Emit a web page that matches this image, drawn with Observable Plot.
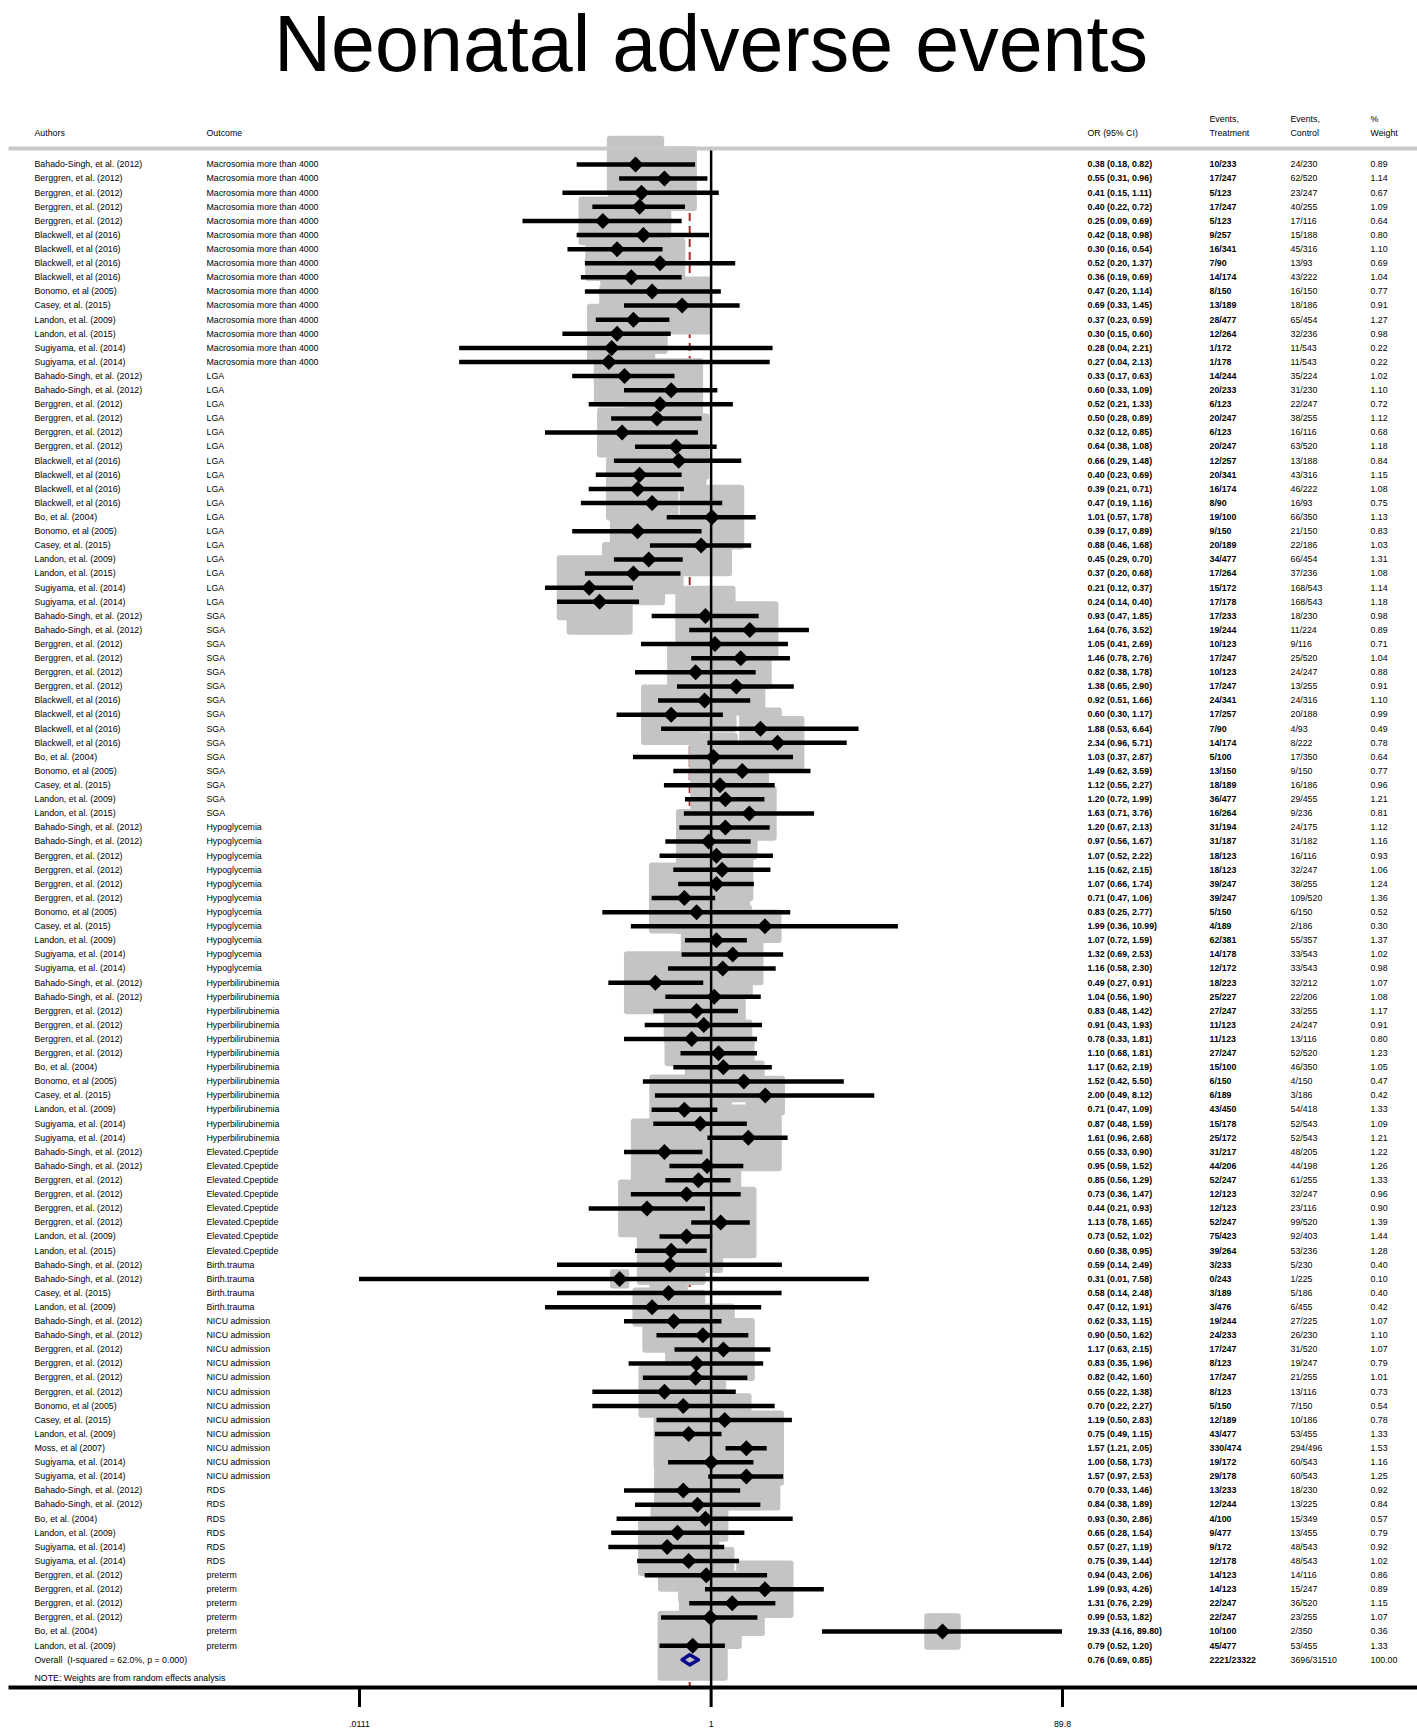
<!DOCTYPE html>
<html>
<head>
<meta charset="utf-8">
<script src="https://cdn.jsdelivr.net/npm/d3@7"></script>
<script src="https://cdn.jsdelivr.net/npm/@observablehq/plot@0.6"></script>
<style>
  html, body { margin: 0; padding: 0; background: #fff; }
  #title { height: 100px; position: relative; font-family: "Liberation Sans", Arial, sans-serif; }
  #title span { position: absolute; left: 0; width: 1422px; text-align: center; top: 4px; font-size: 79px; line-height: 79px; color: #000; }
  #chart svg { display: block; }
</style>
</head>
<body>
<div id="title"><span>Neonatal adverse events</span></div>
<div id="chart"></div>
<script>
const BS = "Bahado-Singh, et al. (2012)", BG = "Berggren, et al. (2012)", BW = "Blackwell, et al (2016)",
      BN = "Bonomo, et al (2005)", CA = "Casey, et al. (2015)", L9 = "Landon, et al. (2009)",
      L15 = "Landon, et al. (2015)", SU = "Sugiyama, et al. (2014)", BO = "Bo, et al. (2004)", MO = "Moss, et al (2007)";

const authors = [
  BS, BG, BG, BG, BG, BW, BW, BW, BW, BN, CA, L9, L15, SU, SU,
  BS, BS, BG, BG, BG, BG, BW, BW, BW, BW, BO, BN, CA, L9, L15, SU, SU,
  BS, BS, BG, BG, BG, BG, BW, BW, BW, BW, BO, BN, CA, L9, L15,
  BS, BS, BG, BG, BG, BG, BN, CA, L9, SU, SU,
  BS, BS, BG, BG, BG, BG, BO, BN, CA, L9, SU, SU,
  BS, BS, BG, BG, BG, BG, L9, L15,
  BS, BS, CA, L9,
  BS, BS, BG, BG, BG, BG, BN, CA, L9, MO, SU, SU,
  BS, BS, BO, L9, SU, SU,
  BG, BG, BG, BG, BO, L9
];

const outcomeNames = ["Macrosomia more than 4000", "LGA", "SGA", "Hypoglycemia", "Hyperbilirubinemia",
  "Elevated.Cpeptide", "Birth.trauma", "NICU admission", "RDS", "preterm"];
const outcomeCounts = [15, 17, 15, 11, 12, 8, 4, 12, 6, 6];

const orVals = [
  0.38, 0.55, 0.41, 0.40, 0.25, 0.42, 0.30, 0.52, 0.36, 0.47, 0.69, 0.37, 0.30, 0.28, 0.27,
  0.33, 0.60, 0.52, 0.50, 0.32, 0.64, 0.66, 0.40, 0.39, 0.47, 1.01, 0.39, 0.88, 0.45, 0.37, 0.21, 0.24,
  0.93, 1.64, 1.05, 1.46, 0.82, 1.38, 0.92, 0.60, 1.88, 2.34, 1.03, 1.49, 1.12, 1.20, 1.63,
  1.20, 0.97, 1.07, 1.15, 1.07, 0.71, 0.83, 1.99, 1.07, 1.32, 1.16,
  0.49, 1.04, 0.83, 0.91, 0.78, 1.10, 1.17, 1.52, 2.00, 0.71, 0.87, 1.61,
  0.55, 0.95, 0.85, 0.73, 0.44, 1.13, 0.73, 0.60,
  0.59, 0.31, 0.58, 0.47,
  0.62, 0.90, 1.17, 0.83, 0.82, 0.55, 0.70, 1.19, 0.75, 1.57, 1.00, 1.57,
  0.70, 0.84, 0.93, 0.65, 0.57, 0.75,
  0.94, 1.99, 1.31, 0.99, 19.33, 0.79
];
const loVals = [
  0.18, 0.31, 0.15, 0.22, 0.09, 0.18, 0.16, 0.20, 0.19, 0.20, 0.33, 0.23, 0.15, 0.04, 0.04,
  0.17, 0.33, 0.21, 0.28, 0.12, 0.38, 0.29, 0.23, 0.21, 0.19, 0.57, 0.17, 0.46, 0.29, 0.20, 0.12, 0.14,
  0.47, 0.76, 0.41, 0.78, 0.38, 0.65, 0.51, 0.30, 0.53, 0.96, 0.37, 0.62, 0.55, 0.72, 0.71,
  0.67, 0.56, 0.52, 0.62, 0.66, 0.47, 0.25, 0.36, 0.72, 0.69, 0.58,
  0.27, 0.56, 0.48, 0.43, 0.33, 0.68, 0.62, 0.42, 0.49, 0.47, 0.48, 0.96,
  0.33, 0.59, 0.56, 0.36, 0.21, 0.78, 0.52, 0.38,
  0.14, 0.01, 0.14, 0.12,
  0.33, 0.50, 0.63, 0.35, 0.42, 0.22, 0.22, 0.50, 0.49, 1.21, 0.58, 0.97,
  0.33, 0.38, 0.30, 0.28, 0.27, 0.39,
  0.43, 0.93, 0.76, 0.53, 4.16, 0.52
];
const hiVals = [
  0.82, 0.96, 1.11, 0.72, 0.69, 0.98, 0.54, 1.37, 0.69, 1.14, 1.45, 0.59, 0.60, 2.21, 2.13,
  0.63, 1.09, 1.33, 0.89, 0.85, 1.08, 1.48, 0.69, 0.71, 1.16, 1.78, 0.89, 1.68, 0.70, 0.68, 0.37, 0.40,
  1.85, 3.52, 2.69, 2.76, 1.78, 2.90, 1.66, 1.17, 6.64, 5.71, 2.87, 3.59, 2.27, 1.99, 3.76,
  2.13, 1.67, 2.22, 2.15, 1.74, 1.06, 2.77, 10.99, 1.59, 2.53, 2.30,
  0.91, 1.90, 1.42, 1.93, 1.81, 1.81, 2.19, 5.50, 8.12, 1.09, 1.59, 2.68,
  0.90, 1.52, 1.29, 1.47, 0.93, 1.65, 1.02, 0.95,
  2.49, 7.58, 2.48, 1.91,
  1.15, 1.62, 2.15, 1.96, 1.60, 1.38, 2.27, 2.83, 1.15, 2.05, 1.73, 2.53,
  1.46, 1.89, 2.86, 1.54, 1.19, 1.44,
  2.06, 4.26, 2.29, 1.82, 89.80, 1.20
];
const evTreat = [
  "10/233", "17/247", "5/123", "17/247", "5/123", "9/257", "16/341", "7/90", "14/174", "8/150", "13/189", "28/477", "12/264", "1/172", "1/178",
  "14/244", "20/233", "6/123", "20/247", "6/123", "20/247", "12/257", "20/341", "16/174", "8/90", "19/100", "9/150", "20/189", "34/477", "17/264", "15/172", "17/178",
  "17/233", "19/244", "10/123", "17/247", "10/123", "17/247", "24/341", "17/257", "7/90", "14/174", "5/100", "13/150", "18/189", "36/477", "16/264",
  "31/194", "31/187", "18/123", "18/123", "39/247", "39/247", "5/150", "4/189", "62/381", "14/178", "12/172",
  "18/223", "25/227", "27/247", "11/123", "11/123", "27/247", "15/100", "6/150", "6/189", "43/450", "15/178", "25/172",
  "31/217", "44/206", "52/247", "12/123", "12/123", "52/247", "75/423", "39/264",
  "3/233", "0/243", "3/189", "3/476",
  "19/244", "24/233", "17/247", "8/123", "17/247", "8/123", "5/150", "12/189", "43/477", "330/474", "19/172", "29/178",
  "13/233", "12/244", "4/100", "9/477", "9/172", "12/178",
  "14/123", "14/123", "22/247", "22/247", "10/100", "45/477"
];
const evCtrl = [
  "24/230", "62/520", "23/247", "40/255", "17/116", "15/188", "45/316", "13/93", "43/222", "16/150", "18/186", "65/454", "32/236", "11/543", "11/543",
  "35/224", "31/230", "22/247", "38/255", "16/116", "63/520", "13/188", "43/316", "46/222", "16/93", "66/350", "21/150", "22/186", "66/454", "37/236", "168/543", "168/543",
  "18/230", "11/224", "9/116", "25/520", "24/247", "13/255", "24/316", "20/188", "4/93", "8/222", "17/350", "9/150", "16/186", "29/455", "9/236",
  "24/175", "31/182", "16/116", "32/247", "38/255", "109/520", "6/150", "2/186", "55/357", "33/543", "33/543",
  "32/212", "22/206", "33/255", "24/247", "13/116", "52/520", "46/350", "4/150", "3/186", "54/418", "52/543", "52/543",
  "48/205", "44/198", "61/255", "32/247", "23/116", "99/520", "92/403", "53/236",
  "5/230", "1/225", "5/186", "6/455",
  "27/225", "26/230", "31/520", "19/247", "21/255", "13/116", "7/150", "10/186", "53/455", "294/496", "60/543", "60/543",
  "18/230", "13/225", "15/349", "13/455", "48/543", "48/543",
  "14/116", "15/247", "36/520", "23/255", "2/350", "53/455"
];
const weights = [
  0.89, 1.14, 0.67, 1.09, 0.64, 0.80, 1.10, 0.69, 1.04, 0.77, 0.91, 1.27, 0.98, 0.22, 0.22,
  1.02, 1.10, 0.72, 1.12, 0.68, 1.18, 0.84, 1.15, 1.08, 0.75, 1.13, 0.83, 1.03, 1.31, 1.08, 1.14, 1.18,
  0.98, 0.89, 0.71, 1.04, 0.88, 0.91, 1.10, 0.99, 0.49, 0.78, 0.64, 0.77, 0.96, 1.21, 0.81,
  1.12, 1.16, 0.93, 1.06, 1.24, 1.36, 0.52, 0.30, 1.37, 1.02, 0.98,
  1.07, 1.08, 1.17, 0.91, 0.80, 1.23, 1.05, 0.47, 0.42, 1.33, 1.09, 1.21,
  1.22, 1.26, 1.33, 0.96, 0.90, 1.39, 1.44, 1.28,
  0.40, 0.10, 0.40, 0.42,
  1.07, 1.10, 1.07, 0.79, 1.01, 0.73, 0.54, 0.78, 1.33, 1.53, 1.16, 1.25,
  0.92, 0.84, 0.57, 0.79, 0.92, 1.02,
  0.86, 0.89, 1.15, 1.07, 0.36, 1.33
];

const overallLabel = "Overall  (I-squared = 62.0%, p = 0.000)";
const overallOR = 0.76, overallLo = 0.69, overallHi = 0.85;
const overallTreat = "2221/23322", overallCtrl = "3696/31510", overallWeight = "100.00";
const noteText = "NOTE: Weights are from random effects analysis";

const tickVals = [0.0111, 1, 89.8];
const tickLabels = [".0111", "1", "89.8"];

const headerLine1 = ["", "", "", "Events,", "Events,", "%"];
const headerLine2 = ["Authors", "Outcome", "OR (95% CI)", "Treatment", "Control", "Weight"];

// build rows
const outcomes = outcomeNames.flatMap((n, i) => Array(outcomeCounts[i]).fill(n));
const rows = authors.map((a, i) => ({
  row: i + 1, author: a, outcome: outcomes[i], or: orVals[i], lo: loVals[i], hi: hiVals[i],
  ciText: `${orVals[i].toFixed(2)} (${loVals[i].toFixed(2)}, ${hiVals[i].toFixed(2)})`,
  treat: evTreat[i], ctrl: evCtrl[i], w: weights[i], wText: weights[i].toFixed(2)
}));
const overallRow = rows.length + 1;
const textRows = [...rows, {row: overallRow, author: overallLabel, outcome: "",
  ciText: `${overallOR.toFixed(2)} (${overallLo.toFixed(2)}, ${overallHi.toFixed(2)})`,
  treat: overallTreat, ctrl: overallCtrl, wText: overallWeight}];
const diamondPts = [
  {x: overallLo, y: overallRow}, {x: overallOR, y: overallRow - 0.36},
  {x: overallHi, y: overallRow}, {x: overallOR, y: overallRow + 0.36},
  {x: overallLo, y: overallRow}
];
const ticks = tickVals.map((v, i) => ({v, label: tickLabels[i]}));

const xMin = tickVals[0], xMax = tickVals[tickVals.length - 1];

const roundSquare = {
  draw(ctx, size) {
    const r = Math.sqrt(size / Math.PI), c = Math.min(3, r * 0.25);
    ctx.moveTo(-r + c, -r);
    ctx.lineTo(r - c, -r); ctx.arcTo(r, -r, r, -r + c, c);
    ctx.lineTo(r, r - c); ctx.arcTo(r, r, r - c, r, c);
    ctx.lineTo(-r + c, r); ctx.arcTo(-r, r, -r, r - c, c);
    ctx.lineTo(-r, -r + c); ctx.arcTo(-r, -r, -r + c, -r, c);
    ctx.closePath();
  }
};
const diamondSym = {
  draw(ctx, size) {
    const r = Math.sqrt(size / Math.PI);
    ctx.moveTo(0, -r); ctx.lineTo(r, 0); ctx.lineTo(0, r); ctx.lineTo(-r, 0); ctx.closePath();
  }
};

// column offsets from the frame's left edge (style)
const colDx = [24, 196, 1077, 1199, 1280, 1360];
const fs = 8.8;
const W = 1417, H = 1629;

const colField = ["author", "outcome", "ciText", "treat", "ctrl", "wText"];
const colBold = [false, false, true, true, false, false];

const columnMarks = colField.map((f, i) =>
  Plot.text(textRows, {y: "row", text: f, frameAnchor: "left", dx: colDx[i], textAnchor: "start",
    fontSize: fs, fontWeight: colBold[i] ? "bold" : "normal"}));
const headerMarks = headerLine2.flatMap((t, i) => [
  Plot.text([t], {frameAnchor: "top-left", dx: colDx[i], dy: -18.5, textAnchor: "start", fontSize: fs}),
  Plot.text([headerLine1[i]], {frameAnchor: "top-left", dx: colDx[i], dy: -32.5, textAnchor: "start", fontSize: fs})
]);

const chart = Plot.plot({
  width: W, height: H,
  marginLeft: 10, marginRight: 0, marginTop: 48, marginBottom: 42,
  style: {fontFamily: "'Liberation Sans', Arial, sans-serif", background: "#fff", color: "#000", overflow: "visible"},
  x: {type: "log", domain: [xMin, xMax], range: [359, 1062], axis: null},
  y: {type: "linear", domain: [1, overallRow], range: [64, 1559.3], axis: null},
  r: {type: "sqrt", domain: [0, 1], range: [0, 30.4]},
  marks: [
    Plot.ruleX([overallOR], {stroke: "#a52a2a", strokeWidth: 2, strokeDasharray: "8,5"}),
    Plot.dot(rows, {x: "or", y: "row", r: "w", symbol: roundSquare, fill: "#c4c4c4", stroke: "none"}),
    Plot.ruleX([1], {stroke: "#000", strokeWidth: 2.5}),
    Plot.ruleY(rows, {y: "row", x1: d => Math.max(d.lo, xMin), x2: d => Math.min(d.hi, xMax), stroke: "#000", strokeWidth: 4.5}),
    Plot.dot(rows, {x: "or", y: "row", r: 8, symbol: diamondSym, fill: "#000", stroke: "none"}),
    Plot.line(diamondPts, {x: "x", y: "y", stroke: "#0a0a8c", strokeWidth: 3.5, strokeLinejoin: "round", fill: "none"}),
    ...columnMarks,
    ...headerMarks,
    Plot.text([noteText], {frameAnchor: "bottom-left", dx: 24, dy: -7, textAnchor: "start", fontSize: fs}),
    Plot.frame({anchor: "top", stroke: "#c8c8c8", strokeWidth: 4}),
    Plot.frame({anchor: "bottom", stroke: "#000", strokeWidth: 4}),
    Plot.axisX({ticks: tickVals, tickFormat: () => "", tickSize: 20, tickPadding: 0, strokeWidth: 3, label: null, anchor: "bottom"}),
    Plot.text(ticks, {x: "v", text: "label", frameAnchor: "bottom", dy: 39, fontSize: fs})
  ]
});
document.getElementById("chart").appendChild(chart);
</script>
</body>
</html>
